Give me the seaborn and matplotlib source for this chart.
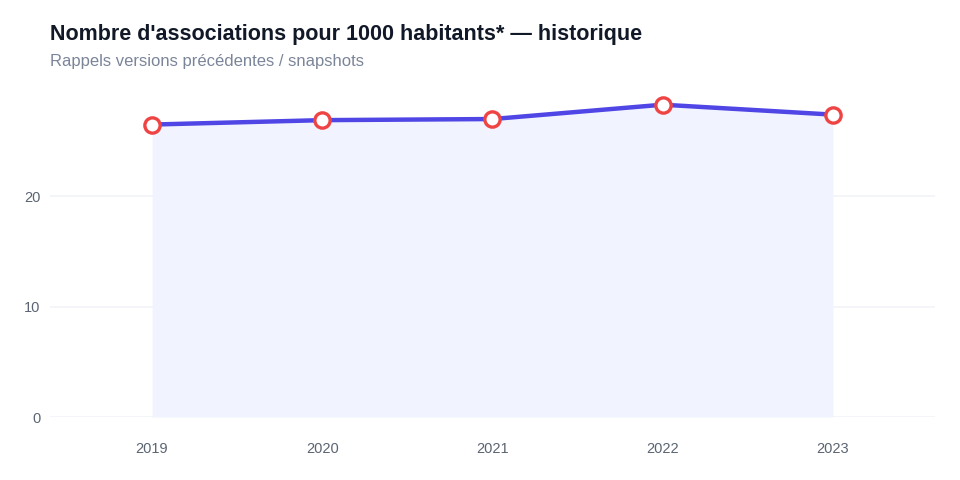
import matplotlib
matplotlib.use("Agg")
import matplotlib.pyplot as plt
import seaborn as sns
import pandas as pd

years = ["2019", "2020", "2021", "2022", "2023"]
values = [26.5, 26.9, 27.0, 28.3, 27.4]
y_ticks = [0, 10, 20]

title = "Nombre d'associations pour 1000 habitants* — historique"
subtitle = "Rappels versions précédentes / snapshots"

sns.set_theme(style="white")
plt.rcParams['font.family'] = ['Liberation Sans', 'DejaVu Sans']

df = pd.DataFrame({"year": years, "value": values})
df["pos"] = range(len(years))

fig = plt.figure(figsize=(9.6, 4.8), dpi=100)
ax = fig.add_axes([0.052, 0.131, 0.922, 0.69])

ax.fill_between(df["pos"], 0, df["value"], color="#f1f4ff", linewidth=0, zorder=1)
sns.lineplot(data=df, x="pos", y="value", ax=ax, color="#4f46e5", linewidth=3.2,
             marker="o", markersize=11, markerfacecolor="white",
             markeredgecolor="#ef4444", markeredgewidth=2.4, zorder=3)

ax.set_xlim(-0.6, len(years) - 0.4)
ax.set_ylim(0, 30)
ax.set_xticks(df["pos"])
ax.set_xticklabels(years)
ax.set_yticks(y_ticks)
ax.set_xlabel("")
ax.set_ylabel("")
ax.tick_params(axis="both", length=0, labelsize=10.5, labelcolor="#5b6472")
ax.tick_params(axis="x", pad=18)
ax.tick_params(axis="y", pad=7)
for s in ax.spines.values():
    s.set_visible(False)
ax.yaxis.grid(True, color="#f1f3f8", linewidth=1.2, zorder=0)
ax.set_axisbelow(True)

fig.text(0.052, 0.917, title, fontsize=15.5, fontweight="bold", color="#111827", va="baseline")
fig.text(0.052, 0.863, subtitle, fontsize=12, color="#7b8599", va="baseline")

fig.savefig("out.png", dpi=100)
